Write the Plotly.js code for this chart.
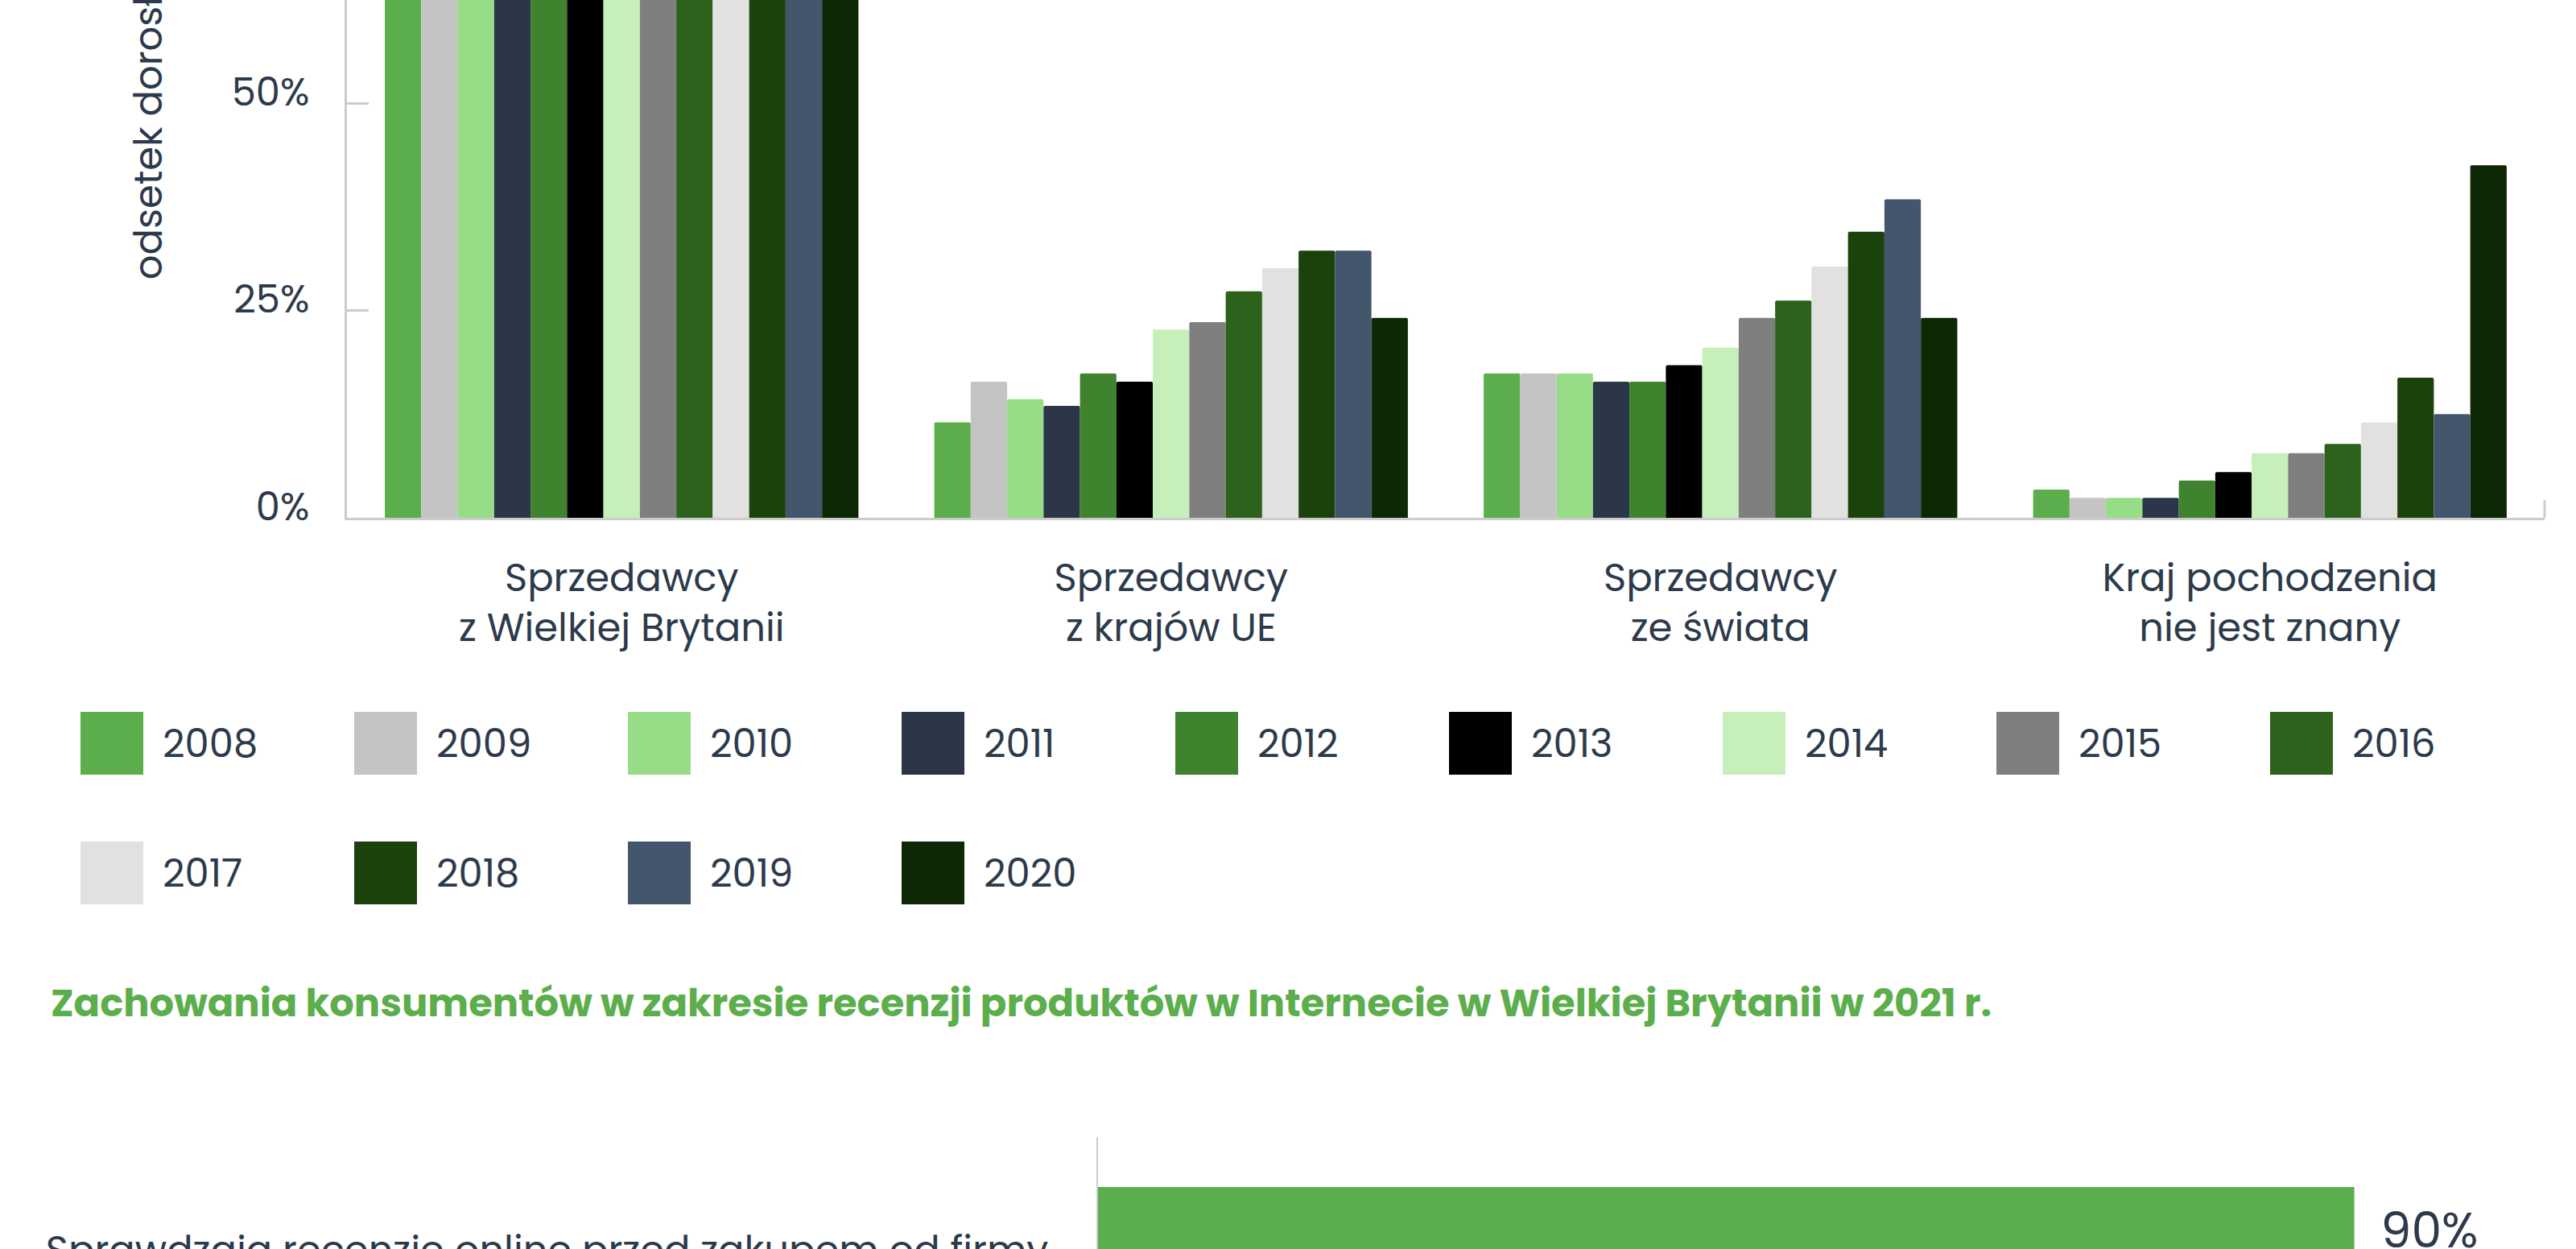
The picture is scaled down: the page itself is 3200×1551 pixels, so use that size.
<!DOCTYPE html>
<html>
<head>
<meta charset="utf-8">
<script src="https://cdn.plot.ly/plotly-3.0.1.min.js"></script>
<style>
  html, body { margin: 0; padding: 0; background: #ffffff; overflow: hidden; }
  #wrap { position: relative; width: 3200px; height: 1551px; overflow: hidden; }
  #chart { position: absolute; left: 0; top: -420px; width: 3200px; height: 2200px; }
</style>
</head>
<body>
<div id="wrap"><div id="chart"></div></div>
<script>
// ---- data ----
const categories = [
  'Sprzedawcy<br>z Wielkiej Brytanii',
  'Sprzedawcy<br>z krajów UE',
  'Sprzedawcy<br>ze świata',
  'Kraj pochodzenia<br>nie jest znany'
];
const years = ['2008','2009','2010','2011','2012','2013','2014','2015','2016','2017','2018','2019','2020'];
const ukSellers      = [93, 93, 94, 95, 95, 95, 96, 95, 96, 96, 96, 95, 93];
const euSellers      = [11.5, 16.4, 14.3, 13.5, 17.4, 16.4, 22.7, 23.6, 27.3, 30.1, 32.2, 32.2, 24.1];
const worldSellers   = [17.4, 17.4, 17.4, 16.4, 16.4, 18.4, 20.5, 24.1, 26.2, 30.3, 34.5, 38.4, 24.1];
const unknownOrigin  = [3.4, 2.4, 2.4, 2.4, 4.5, 5.5, 7.8, 7.8, 8.9, 11.5, 16.9, 12.5, 42.5];
const yearColors = ['#5cae4c','#c4c4c4','#97dc86','#2b3648','#3f832f','#000000','#c6efb9',
                    '#7f7f7f','#2c621b','#e1e1e1','#1c420c','#44566c','#0e2705'];

const reviewLabels = ['Sprawdzają recenzje online przed zakupem od firmy'];
const reviewValues = [90];

const yTicks = [0, 25, 50, 75, 100];
const yTickText = yTicks.map(v => v + '%');
const yTitle = 'odsetek dorosłych';
const secondTitle = 'Zachowania konsumentów w zakresie recenzji produktów w Internecie w Wielkiej Brytanii w 2021 r.';

// ---- layout helpers ----
const W = 3200, H = 2200, T = 420;          // figure size and hidden offset above the view
const px = x => x / W;
const py = y => (H - (y + T)) / H;           // page y -> paper fraction
const FONT = 'Poppins, Inter, "Open Sans", sans-serif';
const TXT = '#2c3a4b';
const AX = '#cccccc';

const traces = years.map((yr, j) => ({
  type: 'bar',
  name: yr,
  x: categories,
  y: [ukSellers[j], euSellers[j], worldSellers[j], unknownOrigin[j]],
  marker: { color: yearColors[j], cornerradius: 2, line: { width: 0 } },
  xaxis: 'x', yaxis: 'y',
  hoverinfo: 'x+y+name'
}));

traces.push({
  type: 'bar',
  orientation: 'h',
  x: reviewValues,
  y: reviewLabels,
  xaxis: 'x2', yaxis: 'y2',
  width: 0.466,
  marker: { color: '#5cae4c' },
  texttemplate: '\u2002%{x}%',
  textposition: 'outside',
  textfont: { size: 60, color: TXT, family: FONT },
  cliponaxis: false,
  showlegend: false
});

const shapes = [];
const annotations = [];

// custom legend (large square swatches)
years.forEach((yr, i) => {
  const row = i < 9 ? 0 : 1;
  const col = i % 9;
  const x0 = 100 + col * 340;
  const y0 = 884 + row * 161;
  shapes.push({
    type: 'rect', xref: 'paper', yref: 'paper',
    x0: px(x0), x1: px(x0 + 78), y0: py(y0 + 78), y1: py(y0),
    fillcolor: yearColors[i], line: { width: 0 }
  });
  annotations.push({
    xref: 'paper', yref: 'paper', x: px(x0 + 100), y: py(y0 + 39),
    xanchor: 'left', yanchor: 'middle', showarrow: false,
    text: yr, font: { size: 48, color: TXT, family: FONT }
  });
});

// small closing tick at the right end of the x axis
shapes.push({
  type: 'line', xref: 'x domain', yref: 'y', x0: 1, x1: 1,
  ysizemode: 'pixel', yanchor: 0, y0: 0, y1: 22,
  line: { color: AX, width: 3 }
});

annotations.push({
  xref: 'paper', yref: 'paper', x: px(61), y: py(1245),
  xanchor: 'left', yanchor: 'middle', showarrow: false,
  text: '<b>' + secondTitle + '</b>',
  font: { size: 48, color: '#5cae4c', family: FONT }
});

const layout = {
  width: W, height: H,
  margin: { l: 0, r: 0, t: 0, b: 0 },
  paper_bgcolor: '#ffffff', plot_bgcolor: '#ffffff',
  font: { family: FONT, color: TXT, size: 48 },
  showlegend: false,
  barmode: 'group',
  bargap: 0.138,
  bargroupgap: 0,
  xaxis: {
    domain: [px(431), px(3161)],
    anchor: 'y',
    type: 'category',
    showline: true, linecolor: AX, linewidth: 3,
    ticks: '', showgrid: false, zeroline: false,
    tickfont: { size: 48, color: TXT, family: FONT },
    ticklabelstandoff: 30
  },
  yaxis: {
    domain: [py(643), py(-387)],
    anchor: 'x',
    range: [0, 100],
    tickmode: 'array',
    tickvals: yTicks,
    ticktext: yTickText,
    ticks: 'inside', ticklen: 27, tickwidth: 3, tickcolor: AX,
    showline: true, linecolor: AX, linewidth: 3,
    showgrid: false, zeroline: false,
    ticklabelposition: 'outside top',
    ticklabelshift: 21,
    ticklabelstandoff: 34,
    tickfont: { size: 48, color: TXT, family: FONT },
    title: { text: yTitle, standoff: 71, font: { size: 48, color: TXT, family: FONT } }
  },
  xaxis2: {
    domain: [px(1364), px(3098)],
    anchor: 'y2',
    range: [0, 100],
    showline: false, showgrid: false, zeroline: false,
    showticklabels: false, ticks: ''
  },
  yaxis2: {
    domain: [py(1644), py(1412)],
    anchor: 'x2',
    type: 'category',
    range: [0.5, -0.5],
    showline: true, linecolor: AX, linewidth: 2,
    ticks: '', showgrid: false, zeroline: false,
    tickfont: { size: 48, color: TXT, family: FONT },
    ticklabelstandoff: 50,
    ticklabelshift: -24
  },
  shapes: shapes,
  annotations: annotations
};

Plotly.newPlot('chart', traces, layout, { displayModeBar: false, staticPlot: true });
</script>
</body>
</html>
